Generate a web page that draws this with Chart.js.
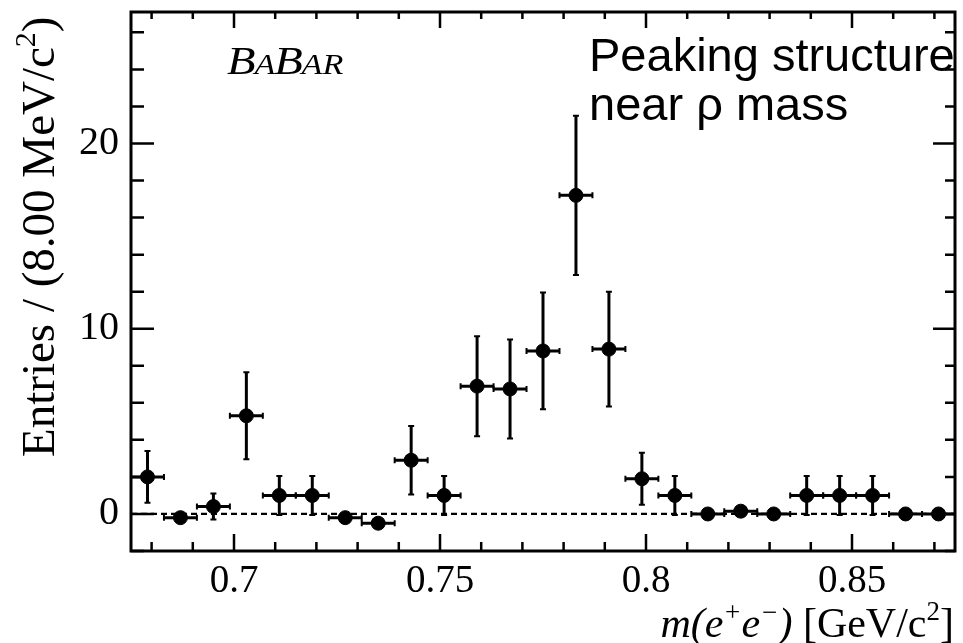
<!DOCTYPE html>
<html>
<head>
<meta charset="utf-8">
<script src="https://cdn.jsdelivr.net/npm/chart.js@4.4.1/dist/chart.umd.min.js"></script>
<style>
  html, body { margin: 0; padding: 0; background: #fff; }
  #wrap { width: 963px; height: 643px; }
</style>
</head>
<body>
<div id="wrap"><canvas id="chart" width="963" height="643"></canvas></div>
<script>
// bin centres of m(e+e-) in GeV/c^2 (8 MeV bins)
const binCenters = [0.679, 0.687, 0.695, 0.703, 0.711, 0.719, 0.727, 0.735, 0.743, 0.751,
                    0.759, 0.767, 0.775, 0.783, 0.791, 0.799, 0.807, 0.815, 0.823, 0.831,
                    0.839, 0.847, 0.855, 0.863, 0.871];
const entries = [2.0, -0.2, 0.4, 5.3, 1.0, 1.0, -0.2, -0.5, 2.9, 1.0,
                 6.9, 6.75, 8.8, 17.2, 8.9, 1.9, 1.0, 0.0, 0.15, 0.0,
                 1.0, 1.0, 1.0, 0.0, 0.0];
const errors = [1.4, 0.15, 0.7, 2.35, 1.05, 1.05, 0.15, 0.15, 1.85, 1.05,
                2.7, 2.67, 3.15, 4.3, 3.1, 1.4, 1.05, 0.0, 0.1, 0.0,
                1.05, 1.05, 1.05, 0.0, 0.0];
const binWidth = 0.008;

const xTicks = [0.7, 0.75, 0.8, 0.85];
const xTickLabels = ['0.7', '0.75', '0.8', '0.85'];
const yTicks = [0, 10, 20];
const yTickLabels = ['0', '10', '20'];

const serif = '"Liberation Serif", "Times New Roman", serif';
const sans = '"Liberation Sans", Arial, sans-serif';

// error bars, frame, inward ticks and labels
const histoDecor = {
  id: 'histoDecor',
  beforeDatasetsDraw(chart) {
    const { ctx, chartArea: a, scales: { x, y } } = chart;
    ctx.save();
    // dashed zero line
    ctx.strokeStyle = '#000';
    ctx.lineWidth = 2.2;
    ctx.setLineDash([6, 4]);
    ctx.beginPath();
    ctx.moveTo(a.left, y.getPixelForValue(0));
    ctx.lineTo(a.right, y.getPixelForValue(0));
    ctx.stroke();
    ctx.setLineDash([]);

    binCenters.forEach((c, i) => {
      const px = x.getPixelForValue(c);
      const py = y.getPixelForValue(entries[i]);
      const x0 = x.getPixelForValue(c - binWidth / 2);
      const x1 = x.getPixelForValue(c + binWidth / 2);
      ctx.lineWidth = 3;
      ctx.beginPath();
      ctx.moveTo(x0, py);
      ctx.lineTo(x1, py);
      ctx.stroke();
      ctx.lineWidth = 2;
      ctx.beginPath();
      ctx.moveTo(x0, py - 3); ctx.lineTo(x0, py + 3);
      ctx.moveTo(x1, py - 3); ctx.lineTo(x1, py + 3);
      ctx.stroke();
      if (errors[i] > 0) {
        const yt = y.getPixelForValue(entries[i] + errors[i]);
        const yb = y.getPixelForValue(entries[i] - errors[i]);
        ctx.lineWidth = 3;
        ctx.beginPath();
        ctx.moveTo(px, yt);
        ctx.lineTo(px, yb);
        ctx.stroke();
        ctx.lineWidth = 2;
        ctx.beginPath();
        ctx.moveTo(px - 3, yt); ctx.lineTo(px + 3, yt);
        ctx.moveTo(px - 3, yb); ctx.lineTo(px + 3, yb);
        ctx.stroke();
      }
    });
    ctx.restore();
  },
  afterDraw(chart) {
    const { ctx, chartArea: a, scales: { x, y } } = chart;
    ctx.save();
    ctx.strokeStyle = '#000';
    ctx.lineWidth = 3;
    ctx.strokeRect(a.left, a.top, a.right - a.left, a.bottom - a.top);

    // x ticks, minor every 0.01
    ctx.lineWidth = 2.5;
    ctx.beginPath();
    for (let k = 68; k <= 87; k++) {
      const v = k / 100;
      const px = x.getPixelForValue(v);
      const major = k % 5 === 0;
      ctx.moveTo(px, a.bottom); ctx.lineTo(px, a.bottom - (major ? 17 : 9));
      ctx.moveTo(px, a.top); ctx.lineTo(px, a.top + (major ? 16 : 7));
    }
    // y ticks, minor every 2
    for (let v = -2; v <= 26; v += 2) {
      const py = y.getPixelForValue(v);
      const major = v % 10 === 0;
      ctx.moveTo(a.left, py); ctx.lineTo(a.left + (major ? 23 : 13), py);
      ctx.moveTo(a.right, py); ctx.lineTo(a.right - (major ? 22 : 10), py);
    }
    ctx.stroke();

    ctx.fillStyle = '#000';
    ctx.textBaseline = 'alphabetic';

    // BaBar logo text (slightly wide, as in the original figure)
    ctx.save();
    ctx.translate(227, 74);
    ctx.scale(1.14, 1);
    let bx = 0;
    [['B', 41], ['A', 30], ['B', 41], ['AR', 30]].forEach(([t, s]) => {
      ctx.font = `italic ${s}px ${serif}`;
      ctx.fillText(t, bx, 0);
      bx += ctx.measureText(t).width - 1;
    });
    ctx.restore();

    // annotation
    ctx.font = `47px ${sans}`;
    ctx.textAlign = 'left';
    ctx.fillText('Peaking structure', 589, 71);
    ctx.fillText('near \u03c1 mass', 589, 120);

    // x title, right aligned
    const parts = [
      ['m(e', 'italic 42px', 0],
      ['+', 'italic 27px', -16],
      ['e', 'italic 42px', 0],
      ['\u2212', 'italic 27px', -16],
      [')', 'italic 42px', 0],
      [' [GeV/c', '42px', 0],
      ['2', '27px', -17],
      [']', '42px', 0]
    ];
    let total = 0;
    parts.forEach(p => { ctx.font = `${p[1]} ${serif}`; total += ctx.measureText(p[0]).width; });
    let tx = 954 - total;
    parts.forEach(p => {
      ctx.font = `${p[1]} ${serif}`;
      ctx.fillText(p[0], tx, 637 + p[2]);
      tx += ctx.measureText(p[0]).width;
    });

    // y title, rotated
    ctx.translate(54, 457);
    ctx.rotate(-Math.PI / 2);
    const yparts = [
      ['Entries / (8.00 MeV/c', '47px', 0],
      ['2', '30px', -19],
      [')', '47px', 0]
    ];
    let ty = 0;
    yparts.forEach(p => {
      ctx.font = `${p[1]} ${serif}`;
      ctx.fillText(p[0], ty, p[2]);
      ty += ctx.measureText(p[0]).width;
    });
    ctx.restore();
  }
};

new Chart(document.getElementById('chart'), {
  type: 'scatter',
  data: {
    datasets: [{
      label: 'Entries',
      data: binCenters.map((c, i) => ({ x: c, y: entries[i] })),
      backgroundColor: '#000',
      borderColor: '#000',
      pointRadius: 7,
      pointHoverRadius: 7
    }]
  },
  options: {
    responsive: false,
    animation: false,
    layout: { padding: { top: 12, right: 6, left: 0, bottom: 0 } },
    plugins: {
      legend: { display: false },
      tooltip: { enabled: false }
    },
    scales: {
      x: {
        type: 'linear',
        min: 0.675,
        max: 0.875,
        grid: { display: false, drawTicks: false },
        border: { display: false },
        afterFit(scale) {
          scale.height = 92;
          scale.paddingLeft = 0;
          scale.paddingRight = 0;
        },
        afterBuildTicks(scale) { scale.ticks = xTicks.map(v => ({ value: v })); },
        ticks: {
          padding: 7,
          color: '#000',
          font: { family: serif, size: 39 },
          maxRotation: 0,
          callback: (v, i) => xTickLabels[i]
        }
      },
      y: {
        min: -2,
        max: 27.1,
        grid: { display: false, drawTicks: false },
        border: { display: false },
        afterFit(scale) {
          scale.width = 131;
          scale.paddingTop = 0;
          scale.paddingBottom = 0;
        },
        afterBuildTicks(scale) { scale.ticks = yTicks.map(v => ({ value: v })); },
        ticks: {
          padding: 12,
          color: '#000',
          font: { family: serif, size: 40 },
          callback: (v, i) => yTickLabels[i]
        }
      }
    }
  },
  plugins: [histoDecor]
});
</script>
</body>
</html>
